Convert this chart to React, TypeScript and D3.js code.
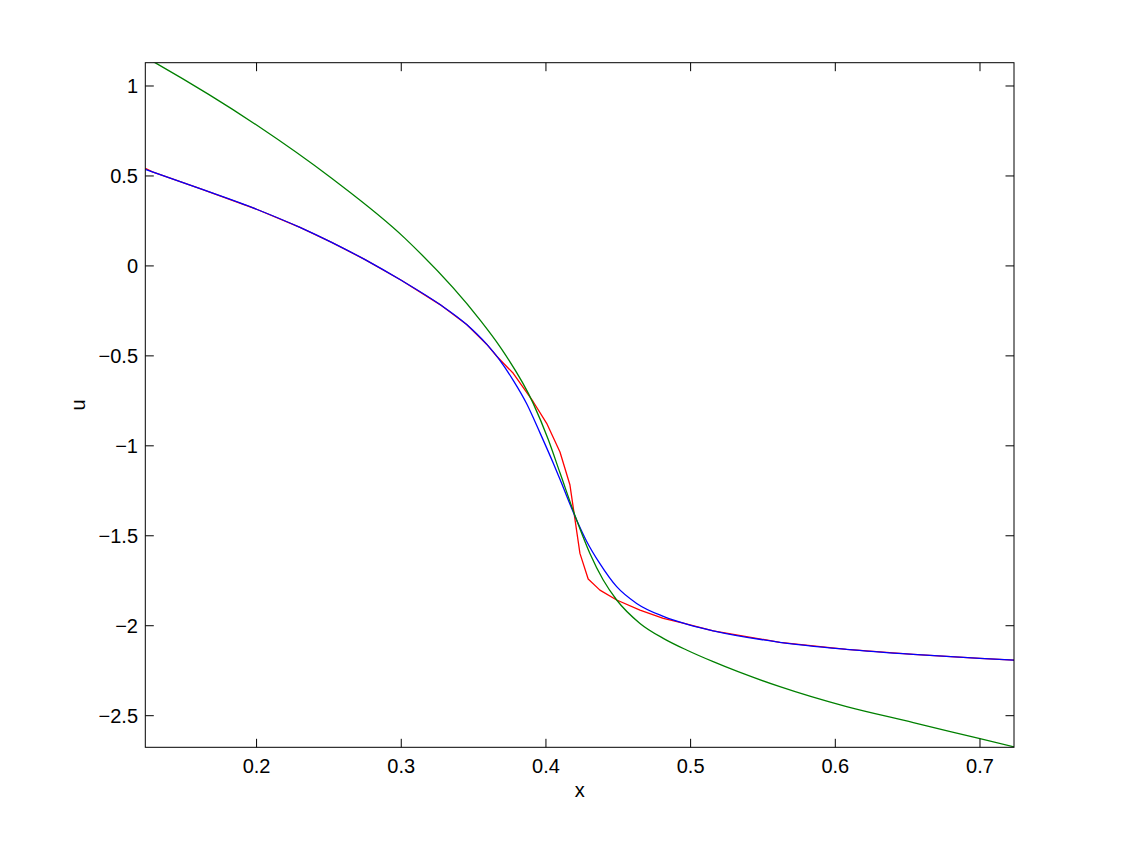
import React from "react";
import * as d3 from "d3";

// ---- data ----
const xGreen = [0.115, 0.1298, 0.2, 0.2519, 0.3026, 0.3544, 0.3683, 0.3912, 0.4016, 0.4097, 0.4212, 0.4304, 0.4396, 0.4489, 0.465, 0.4811, 0.4972, 0.5156, 0.5617, 0.6078, 0.6539, 0.7, 0.73];
const uGreen = [1.197, 1.13, 0.783, 0.487, 0.153, -0.3, -0.45, -0.764, -0.965, -1.15, -1.412, -1.598, -1.746, -1.857, -1.987, -2.07, -2.135, -2.2, -2.339, -2.45, -2.538, -2.628, -2.686];

const xBlue = [0.1231, 0.16, 0.2, 0.23, 0.2519, 0.275, 0.3, 0.3268, 0.3452, 0.359, 0.3683, 0.3774, 0.3867, 0.3959, 0.4051, 0.4097, 0.4212, 0.4281, 0.4373, 0.4489, 0.4627, 0.4811, 0.4995, 0.5156, 0.5617, 0.6078, 0.6539, 0.7, 0.7235];
const uBlue = [0.537, 0.432, 0.315, 0.214, 0.131, 0.035, -0.08, -0.215, -0.326, -0.435, -0.526, -0.636, -0.766, -0.928, -1.097, -1.186, -1.412, -1.53, -1.655, -1.783, -1.876, -1.948, -1.996, -2.028, -2.092, -2.131, -2.159, -2.181, -2.191];

const xRed = [0.1231, 0.128, 0.16, 0.2, 0.23, 0.2519, 0.275, 0.3, 0.3268, 0.3452, 0.359, 0.366, 0.3703, 0.3774, 0.3912, 0.4005, 0.4097, 0.4166, 0.4235, 0.4292, 0.4373, 0.4489, 0.465, 0.4811, 0.4949, 0.5156, 0.5617, 0.6078, 0.6539, 0.7, 0.7235];
const uRed = [0.543, 0.523, 0.432, 0.315, 0.214, 0.131, 0.035, -0.08, -0.215, -0.326, -0.435, -0.502, -0.538, -0.597, -0.755, -0.875, -1.034, -1.218, -1.598, -1.74, -1.802, -1.857, -1.913, -1.959, -1.986, -2.028, -2.092, -2.131, -2.159, -2.181, -2.191];

const xTicks = [0.2, 0.3, 0.4, 0.5, 0.6, 0.7];
const yTicks = [1, 0.5, 0, -0.5, -1, -1.5, -2, -2.5];
const xTickLabels = ["0.2", "0.3", "0.4", "0.5", "0.6", "0.7"];
const yTickLabels = ["1", "0.5", "0", "\u22120.5", "\u22121", "\u22121.5", "\u22122", "\u22122.5"];

const W = 1121;
const H = 842;
const L = 145.3, R = 1014, T = 62.7, B = 747.3;
const TICK = 8.5;
const FONT = "'Liberation Sans', Arial, Helvetica, sans-serif";

export default function App() {
  const x = d3.scaleLinear().domain([0.1231, 0.7235]).range([L, R]);
  const y = d3.scaleLinear().domain([-2.6757, 1.1295]).range([B, T]);

  const mk = (xs: number[], us: number[], curve: any) =>
    d3
      .line<number>()
      .x((_, i) => x(xs[i]))
      .y((d) => y(d))
      .curve(curve)(us) || "";

  const redPath = mk(xRed, uRed, d3.curveLinear);
  const bluePath = mk(xBlue, uBlue, d3.curveMonotoneX);
  const greenPath = mk(xGreen, uGreen, d3.curveMonotoneX);

  return (
    <svg
      width={W}
      height={H}
      style={{ position: "absolute", left: 0, top: 0, background: "#fff" }}
      fontFamily={FONT}
    >
      <rect x={0} y={0} width={W} height={H} fill="#fff" />
      <defs>
        <clipPath id="plotclip">
          <rect x={L} y={T} width={R - L} height={B - T} />
        </clipPath>
      </defs>
      <g clipPath="url(#plotclip)" fill="none" strokeWidth={1.3} strokeLinejoin="round">
        <path d={redPath} stroke="#ff0000" />
        <path d={bluePath} stroke="#0000ff" />
        <path d={greenPath} stroke="#008000" />
      </g>
      {/* box */}
      <rect x={L} y={T} width={R - L} height={B - T} fill="none" stroke="#000" strokeWidth={1} />
      {/* x ticks */}
      {xTicks.map((t, i) => (
        <g key={"xt" + i}>
          <line x1={x(t)} x2={x(t)} y1={B} y2={B - TICK} stroke="#000" />
          <line x1={x(t)} x2={x(t)} y1={T} y2={T + TICK} stroke="#000" />
          <text x={x(t)} y={B + 25.5} fontSize={20} textAnchor="middle" fill="#000">
            {xTickLabels[i]}
          </text>
        </g>
      ))}
      {/* y ticks */}
      {yTicks.map((t, i) => (
        <g key={"yt" + i}>
          <line x1={L} x2={L + TICK} y1={y(t)} y2={y(t)} stroke="#000" />
          <line x1={R} x2={R - TICK} y1={y(t)} y2={y(t)} stroke="#000" />
          <text x={138} y={y(t) + 7} fontSize={20} textAnchor="end" fill="#000">
            {yTickLabels[i]}
          </text>
        </g>
      ))}
      <text x={(L + R) / 2} y={797} fontSize={20} textAnchor="middle" fill="#000">
        x
      </text>
      <text
        transform={`translate(85,${(T + B) / 2}) rotate(-90)`}
        fontSize={20}
        textAnchor="middle"
        fill="#000"
      >
        u
      </text>
    </svg>
  );
}
